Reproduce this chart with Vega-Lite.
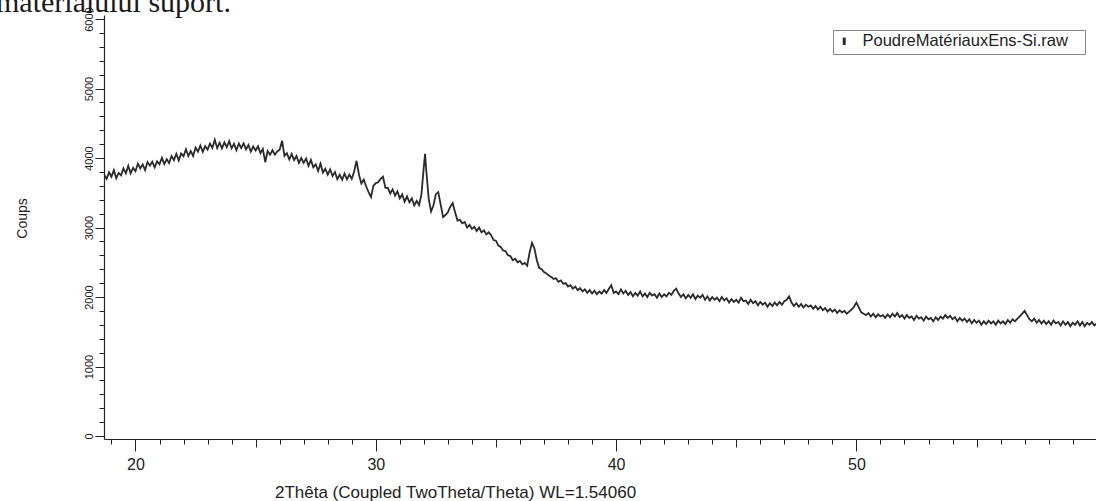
{
  "$schema": "https://vega.github.io/schema/vega-lite/v6.json",
  "width": 992,
  "height": 424,
  "autosize": {"type": "none"},
  "padding": {"left": 104, "top": 15, "right": 0, "bottom": 62},
  "background": "white",
  "config": {
    "view": {"stroke": null},
    "font": "Liberation Sans",
    "axis": {"domainColor": "#222", "tickColor": "#222", "labelColor": "#222", "titleColor": "#222", "grid": false, "tickWidth": 1, "domainWidth": 1.2}
  },
  "title": {
    "text": "materialului suport.",
    "anchor": "start",
    "frame": "group",
    "font": "Liberation Serif",
    "fontSize": 30,
    "fontWeight": "normal",
    "color": "#1a1a1a",
    "dx": -108,
    "offset": -35,
    "baseline": "alphabetic"
  },
  "data": {
    "values": [
      {"t":18.7,"c":3760},{"t":18.8,"c":3700},{"t":18.9,"c":3795},{"t":19.0,"c":3730},{"t":19.1,"c":3825},{"t":19.2,"c":3710},{"t":19.3,"c":3785},{"t":19.4,"c":3750},{"t":19.5,"c":3850},{"t":19.6,"c":3780},
      {"t":19.7,"c":3890},{"t":19.8,"c":3780},{"t":19.9,"c":3860},{"t":20.0,"c":3810},{"t":20.1,"c":3920},{"t":20.2,"c":3850},{"t":20.3,"c":3907},{"t":20.4,"c":3825},{"t":20.5,"c":3942},{"t":20.6,"c":3890},
      {"t":20.7,"c":3947},{"t":20.8,"c":3865},{"t":20.9,"c":3952},{"t":21.0,"c":3910},{"t":21.1,"c":4002},{"t":21.2,"c":3913},{"t":21.3,"c":3985},{"t":21.4,"c":3927},{"t":21.5,"c":4028},{"t":21.6,"c":3970},
      {"t":21.7,"c":4061},{"t":21.8,"c":3963},{"t":21.9,"c":4064},{"t":22.0,"c":4026},{"t":22.1,"c":4127},{"t":22.2,"c":4029},{"t":22.3,"c":4100},{"t":22.4,"c":4030},{"t":22.5,"c":4150},{"t":22.6,"c":4090},
      {"t":22.7,"c":4180},{"t":22.8,"c":4090},{"t":22.9,"c":4170},{"t":23.0,"c":4120},{"t":23.1,"c":4208},{"t":23.2,"c":4146},{"t":23.3,"c":4264},{"t":23.4,"c":4142},{"t":23.5,"c":4220},{"t":23.6,"c":4138},
      {"t":23.7,"c":4226},{"t":23.8,"c":4154},{"t":23.9,"c":4242},{"t":24.0,"c":4140},{"t":24.1,"c":4206},{"t":24.2,"c":4112},{"t":24.3,"c":4208},{"t":24.4,"c":4144},{"t":24.5,"c":4210},{"t":24.6,"c":4124},
      {"t":24.7,"c":4188},{"t":24.8,"c":4092},{"t":24.9,"c":4166},{"t":25.0,"c":4110},{"t":25.1,"c":4170},{"t":25.2,"c":4070},{"t":25.3,"c":4130},{"t":25.4,"c":3940},{"t":25.5,"c":4100},{"t":25.6,"c":4046},
      {"t":25.7,"c":4112},{"t":25.8,"c":4048},{"t":25.9,"c":4094},{"t":26.0,"c":4120},{"t":26.1,"c":4250},{"t":26.2,"c":4030},{"t":26.3,"c":4070},{"t":26.4,"c":3980},{"t":26.5,"c":4060},{"t":26.6,"c":3970},
      {"t":26.7,"c":4030},{"t":26.8,"c":3930},{"t":26.9,"c":4000},{"t":27.0,"c":3930},{"t":27.1,"c":3994},{"t":27.2,"c":3888},{"t":27.3,"c":3972},{"t":27.4,"c":3866},{"t":27.5,"c":3910},{"t":27.6,"c":3814},
      {"t":27.7,"c":3918},{"t":27.8,"c":3792},{"t":27.9,"c":3846},{"t":28.0,"c":3760},{"t":28.1,"c":3836},{"t":28.2,"c":3742},{"t":28.3,"c":3798},{"t":28.4,"c":3694},{"t":28.5,"c":3760},{"t":28.6,"c":3688},
      {"t":28.7,"c":3776},{"t":28.8,"c":3694},{"t":28.9,"c":3762},{"t":29.0,"c":3700},{"t":29.1,"c":3806},{"t":29.2,"c":3960},{"t":29.3,"c":3760},{"t":29.4,"c":3634},{"t":29.5,"c":3690},{"t":29.6,"c":3590},
      {"t":29.7,"c":3510},{"t":29.8,"c":3440},{"t":29.9,"c":3600},{"t":30.0,"c":3640},{"t":30.1,"c":3650},{"t":30.2,"c":3700},{"t":30.3,"c":3730},{"t":30.4,"c":3570},{"t":30.5,"c":3570},{"t":30.6,"c":3490},
      {"t":30.7,"c":3550},{"t":30.8,"c":3460},{"t":30.9,"c":3520},{"t":31.0,"c":3420},{"t":31.1,"c":3476},{"t":31.2,"c":3372},{"t":31.3,"c":3448},{"t":31.4,"c":3364},{"t":31.5,"c":3420},{"t":31.6,"c":3317},
      {"t":31.7,"c":3383},{"t":31.8,"c":3320},{"t":31.9,"c":3480},{"t":32.0,"c":3880},{"t":32.05,"c":4060},{"t":32.1,"c":3820},{"t":32.2,"c":3420},{"t":32.3,"c":3230},{"t":32.4,"c":3320},{"t":32.5,"c":3480},
      {"t":32.6,"c":3510},{"t":32.7,"c":3330},{"t":32.8,"c":3150},{"t":32.9,"c":3180},{"t":33.0,"c":3220},{"t":33.1,"c":3300},{"t":33.2,"c":3350},{"t":33.3,"c":3220},{"t":33.4,"c":3100},{"t":33.5,"c":3110},
      {"t":33.6,"c":3060},{"t":33.7,"c":3080},{"t":33.8,"c":3000},{"t":33.9,"c":3040},{"t":34.0,"c":2980},{"t":34.1,"c":3010},{"t":34.2,"c":2950},{"t":34.3,"c":3000},{"t":34.4,"c":2930},{"t":34.5,"c":2960},
      {"t":34.6,"c":2900},{"t":34.7,"c":2930},{"t":34.8,"c":2890},{"t":34.9,"c":2820},{"t":35.0,"c":2810},{"t":35.1,"c":2740},{"t":35.2,"c":2720},{"t":35.3,"c":2670},{"t":35.4,"c":2660},{"t":35.5,"c":2600},
      {"t":35.6,"c":2590},{"t":35.7,"c":2530},{"t":35.8,"c":2550},{"t":35.9,"c":2500},{"t":36.0,"c":2520},{"t":36.1,"c":2470},{"t":36.2,"c":2490},{"t":36.3,"c":2450},{"t":36.4,"c":2640},{"t":36.5,"c":2780},
      {"t":36.6,"c":2700},{"t":36.7,"c":2530},{"t":36.8,"c":2420},{"t":36.9,"c":2400},{"t":37.0,"c":2360},{"t":37.1,"c":2340},{"t":37.2,"c":2310},{"t":37.3,"c":2290},{"t":37.4,"c":2260},{"t":37.5,"c":2270},
      {"t":37.6,"c":2220},{"t":37.7,"c":2240},{"t":37.8,"c":2190},{"t":37.9,"c":2200},{"t":38.0,"c":2150},{"t":38.1,"c":2170},{"t":38.2,"c":2120},{"t":38.3,"c":2150},{"t":38.4,"c":2100},{"t":38.5,"c":2130},
      {"t":38.6,"c":2080},{"t":38.7,"c":2110},{"t":38.8,"c":2060},{"t":38.9,"c":2100},{"t":39.0,"c":2050},{"t":39.1,"c":2090},{"t":39.2,"c":2040},{"t":39.3,"c":2080},{"t":39.4,"c":2050},{"t":39.5,"c":2100},
      {"t":39.6,"c":2060},{"t":39.7,"c":2120},{"t":39.8,"c":2170},{"t":39.9,"c":2060},{"t":40.0,"c":2080},{"t":40.1,"c":2040},{"t":40.2,"c":2110},{"t":40.3,"c":2050},{"t":40.4,"c":2090},{"t":40.5,"c":2030},
      {"t":40.6,"c":2070},{"t":40.7,"c":2010},{"t":40.8,"c":2060},{"t":40.9,"c":2020},{"t":41.0,"c":2080},{"t":41.1,"c":2010},{"t":41.2,"c":2050},{"t":41.3,"c":2000},{"t":41.4,"c":2060},{"t":41.5,"c":2020},
      {"t":41.6,"c":2040},{"t":41.7,"c":1990},{"t":41.8,"c":2050},{"t":41.9,"c":2000},{"t":42.0,"c":2040},{"t":42.1,"c":2010},{"t":42.2,"c":2060},{"t":42.3,"c":2030},{"t":42.4,"c":2090},{"t":42.5,"c":2120},
      {"t":42.6,"c":2050},{"t":42.7,"c":2000},{"t":42.8,"c":2040},{"t":42.9,"c":1980},{"t":43.0,"c":2030},{"t":43.1,"c":1990},{"t":43.2,"c":2040},{"t":43.3,"c":1970},{"t":43.4,"c":2020},{"t":43.5,"c":1990},
      {"t":43.6,"c":2030},{"t":43.7,"c":1960},{"t":43.8,"c":2010},{"t":43.9,"c":1950},{"t":44.0,"c":2000},{"t":44.1,"c":1960},{"t":44.2,"c":1990},{"t":44.3,"c":1940},{"t":44.4,"c":2000},{"t":44.5,"c":1950},
      {"t":44.6,"c":1980},{"t":44.7,"c":1920},{"t":44.8,"c":1970},{"t":44.9,"c":1930},{"t":45.0,"c":1960},{"t":45.1,"c":1920},{"t":45.2,"c":1990},{"t":45.3,"c":1940},{"t":45.4,"c":1950},{"t":45.5,"c":1900},
      {"t":45.6,"c":1960},{"t":45.7,"c":1910},{"t":45.8,"c":1940},{"t":45.9,"c":1880},{"t":46.0,"c":1930},{"t":46.1,"c":1890},{"t":46.2,"c":1920},{"t":46.3,"c":1860},{"t":46.4,"c":1910},{"t":46.5,"c":1870},
      {"t":46.6,"c":1920},{"t":46.7,"c":1880},{"t":46.8,"c":1930},{"t":46.9,"c":1890},{"t":47.0,"c":1940},{"t":47.1,"c":1960},{"t":47.2,"c":2010},{"t":47.3,"c":1920},{"t":47.4,"c":1870},{"t":47.5,"c":1910},
      {"t":47.6,"c":1860},{"t":47.7,"c":1900},{"t":47.8,"c":1850},{"t":47.9,"c":1890},{"t":48.0,"c":1860},{"t":48.1,"c":1880},{"t":48.2,"c":1830},{"t":48.3,"c":1870},{"t":48.4,"c":1820},{"t":48.5,"c":1860},
      {"t":48.6,"c":1810},{"t":48.7,"c":1840},{"t":48.8,"c":1790},{"t":48.9,"c":1830},{"t":49.0,"c":1790},{"t":49.1,"c":1820},{"t":49.2,"c":1770},{"t":49.3,"c":1810},{"t":49.4,"c":1780},{"t":49.5,"c":1800},
      {"t":49.6,"c":1760},{"t":49.7,"c":1790},{"t":49.8,"c":1820},{"t":49.9,"c":1860},{"t":50.0,"c":1920},{"t":50.1,"c":1850},{"t":50.2,"c":1780},{"t":50.3,"c":1760},{"t":50.4,"c":1740},{"t":50.5,"c":1770},
      {"t":50.6,"c":1720},{"t":50.7,"c":1760},{"t":50.8,"c":1710},{"t":50.9,"c":1750},{"t":51.0,"c":1720},{"t":51.1,"c":1740},{"t":51.2,"c":1700},{"t":51.3,"c":1750},{"t":51.4,"c":1710},{"t":51.5,"c":1760},
      {"t":51.6,"c":1720},{"t":51.7,"c":1770},{"t":51.8,"c":1710},{"t":51.9,"c":1740},{"t":52.0,"c":1690},{"t":52.1,"c":1740},{"t":52.2,"c":1700},{"t":52.3,"c":1720},{"t":52.4,"c":1670},{"t":52.5,"c":1730},
      {"t":52.6,"c":1690},{"t":52.7,"c":1710},{"t":52.8,"c":1660},{"t":52.9,"c":1720},{"t":53.0,"c":1680},{"t":53.1,"c":1700},{"t":53.2,"c":1650},{"t":53.3,"c":1710},{"t":53.4,"c":1670},{"t":53.5,"c":1720},
      {"t":53.6,"c":1690},{"t":53.7,"c":1740},{"t":53.8,"c":1700},{"t":53.9,"c":1730},{"t":54.0,"c":1680},{"t":54.1,"c":1710},{"t":54.2,"c":1650},{"t":54.3,"c":1700},{"t":54.4,"c":1660},{"t":54.5,"c":1690},
      {"t":54.6,"c":1640},{"t":54.7,"c":1680},{"t":54.8,"c":1620},{"t":54.9,"c":1670},{"t":55.0,"c":1630},{"t":55.1,"c":1660},{"t":55.2,"c":1600},{"t":55.3,"c":1650},{"t":55.4,"c":1610},{"t":55.5,"c":1660},
      {"t":55.6,"c":1620},{"t":55.7,"c":1650},{"t":55.8,"c":1600},{"t":55.9,"c":1660},{"t":56.0,"c":1620},{"t":56.1,"c":1650},{"t":56.2,"c":1610},{"t":56.3,"c":1670},{"t":56.4,"c":1630},{"t":56.5,"c":1680},
      {"t":56.6,"c":1650},{"t":56.7,"c":1690},{"t":56.8,"c":1720},{"t":56.9,"c":1760},{"t":57.0,"c":1800},{"t":57.1,"c":1740},{"t":57.2,"c":1680},{"t":57.3,"c":1650},{"t":57.4,"c":1690},{"t":57.5,"c":1630},
      {"t":57.6,"c":1670},{"t":57.7,"c":1620},{"t":57.8,"c":1660},{"t":57.9,"c":1610},{"t":58.0,"c":1650},{"t":58.1,"c":1600},{"t":58.2,"c":1660},{"t":58.3,"c":1620},{"t":58.4,"c":1640},{"t":58.5,"c":1590},
      {"t":58.6,"c":1650},{"t":58.7,"c":1600},{"t":58.8,"c":1640},{"t":58.9,"c":1580},{"t":59.0,"c":1630},{"t":59.1,"c":1600},{"t":59.2,"c":1650},{"t":59.3,"c":1590},{"t":59.4,"c":1640},{"t":59.5,"c":1580},
      {"t":59.6,"c":1630},{"t":59.7,"c":1600},{"t":59.8,"c":1640},{"t":59.9,"c":1590},{"t":60.0,"c":1620}
    ]
  },
  "mark": {"type": "line", "strokeWidth": 1.8, "clip": true},
  "encoding": {
    "x": {
      "field": "t", "type": "quantitative",
      "scale": {"domain": [18.69, 59.97], "nice": false, "zero": false},
      "axis": {
        "orient": "bottom",
        "values": [19,20,21,22,23,24,25,26,27,28,29,30,31,32,33,34,35,36,37,38,39,40,41,42,43,44,45,46,47,48,49,50,51,52,53,54,55,56,57,58,59],
        "tickSize": {"condition": [{"test": "datum.value % 10 === 0", "value": 12}, {"test": "datum.value % 5 === 0", "value": 8}], "value": 5},
        "labelExpr": "datum.value % 10 === 0 ? datum.label : ''",
        "labelFontSize": 16, "labelPadding": 5, "labelFlush": false, "labelBaseline": "top", "labelOverlap": false,
        "title": "2Thêta (Coupled TwoTheta/Theta) WL=1.54060",
        "titleFontSize": 17, "titleFontWeight": "normal",
        "titleX": 351, "titleY": 58, "titleAlign": "center", "titleBaseline": "alphabetic"
      }
    },
    "y": {
      "field": "c", "type": "quantitative",
      "scale": {"domain": [-43, 6058], "nice": false, "zero": false},
      "axis": {
        "orient": "left",
        "values": [0,200,400,600,800,1000,1200,1400,1600,1800,2000,2200,2400,2600,2800,3000,3200,3400,3600,3800,4000,4200,4400,4600,4800,5000,5200,5400,5600,5800,6000],
        "tickSize": {"condition": [{"test": "datum.value % 1000 === 0", "value": 9}], "value": 5},
        "format": "d",
        "labelExpr": "datum.value % 1000 === 0 ? datum.label : ''",
        "labelFontSize": 11, "labelAngle": -90, "labelAlign": "center", "labelBaseline": "alphabetic",
        "labelPadding": 3, "labelFlush": false, "labelOverlap": false,
        "title": "Coups", "titleFontSize": 14, "titleFontWeight": "normal",
        "titleAngle": -90, "titleX": -82, "titleY": 203, "titleAlign": "center", "titleBaseline": "middle"
      }
    },
    "color": {
      "datum": "PoudreMatériauxEns-Si.raw", "type": "nominal",
      "scale": {"range": ["#2a2a2a"]},
      "legend": {
        "orient": "none", "legendX": 729, "legendY": 15, "title": null,
        "symbolType": "M0,-0.6L0,0.6", "symbolSize": 150, "symbolStrokeWidth": 3,
        "symbolStrokeColor": "#222",
        "labelFontSize": 16.5, "labelOffset": 10, "labelColor": "#222", "labelLimit": 400,
        "padding": 3, "strokeColor": "#888", "fillColor": "white",
        "labelExpr": "datum.label + '\u00a0\u00a0\u00a0\u200b'"
      }
    }
  }
}
